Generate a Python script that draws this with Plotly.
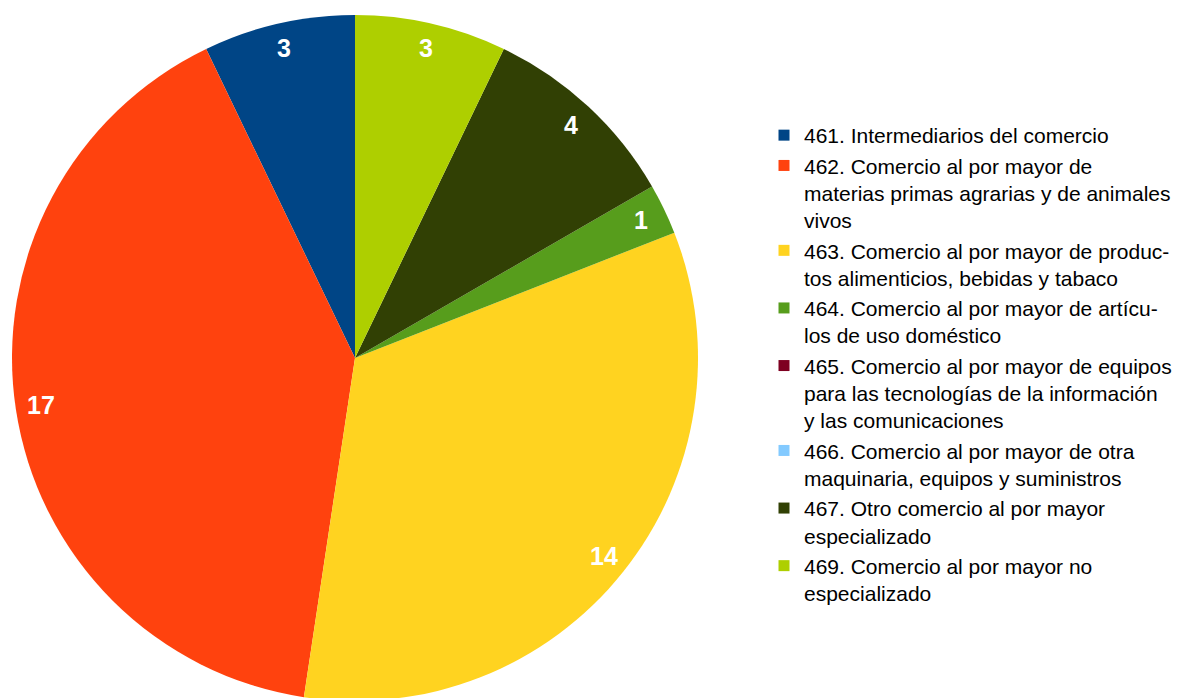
import math
import plotly.graph_objects as go

# ---- data ----
categories = [
    "461. Intermediarios del comercio",
    "462. Comercio al por mayor de<br>materias primas agrarias y de animales<br>vivos",
    "463. Comercio al por mayor de produc-<br>tos alimenticios, bebidas y tabaco",
    "464. Comercio al por mayor de artícu-<br>los de uso doméstico",
    "465. Comercio al por mayor de equipos<br>para las tecnologías de la información<br>y las comunicaciones",
    "466. Comercio al por mayor de otra<br>maquinaria, equipos y suministros",
    "467. Otro comercio al por mayor<br>especializado",
    "469. Comercio al por mayor no<br>especializado",
]
values = [3, 17, 14, 1, 0, 0, 4, 3]
colors = ["#004586", "#ff420e", "#ffd320", "#579d1c", "#7e0021", "#83caff", "#314004", "#aecf00"]

# ---- layout constants ----
W, H = 1187, 698
M_T, M_B, M_L, M_R = 7, 5, 0, 0
PIE_W = 694
plot_w = W - M_L - M_R
plot_h = H - M_T - M_B
dom_x = [0, PIE_W / plot_w]
R_px = min(PIE_W, plot_h) / 2
cx = (dom_x[0] + dom_x[1]) / 2
cy = 0.5
LABEL_FRAC = 0.927

total = sum(values)
# plotly's counterclockwise pies place the first slice clockwise of 12 o'clock;
# rotate so that the first slice starts at 12 o'clock and runs counterclockwise
rotation = -360.0 * values[0] / total

fig = go.Figure()
fig.add_trace(go.Pie(
    labels=categories,
    values=values,
    marker=dict(colors=colors, line=dict(width=0)),
    sort=False,
    direction="counterclockwise",
    rotation=rotation,
    textinfo="none",
    hoverinfo="label+value",
    domain=dict(x=dom_x, y=[0, 1]),
    showlegend=False,
))

# legend entries (one per category)
for cat, col in zip(categories, colors):
    fig.add_trace(go.Scatter(
        x=[None], y=[None], mode="markers", name=cat,
        marker=dict(symbol="square", size=11, color=col),
        legendgroup=cat, showlegend=True, hoverinfo="skip",
    ))

# value labels near the rim, positioned from cumulative values
cum = 0
annotations = []
for v in values:
    if v > 0:
        mid = (cum + v / 2) / total * 2 * math.pi
        dx = -math.sin(mid) * LABEL_FRAC * R_px
        dy = math.cos(mid) * LABEL_FRAC * R_px
        annotations.append(dict(
            x=cx + dx / plot_w, y=cy + dy / plot_h, xref="paper", yref="paper",
            xanchor="center", yanchor="middle",
            text=f"<b>{v}</b>", showarrow=False,
            font=dict(family="Liberation Sans, Arial, sans-serif", size=25, color="white"),
        ))
    cum += v

LEG_TOP = 107
fig.update_layout(
    width=W, height=H,
    margin=dict(l=M_L, r=M_R, t=M_T, b=M_B),
    paper_bgcolor="white", plot_bgcolor="white",
    xaxis=dict(visible=False), yaxis=dict(visible=False),
    annotations=annotations,
    font=dict(family="Liberation Sans, Arial, sans-serif", color="#000000"),
    legend=dict(
        x=(804 - 40 - 8) / W, y=(H - M_B - LEG_TOP) / plot_h, xanchor="left", yanchor="top",
        font=dict(size=21, color="#000000"),
        valign="top", tracegroupgap=0, bgcolor="rgba(0,0,0,0)",
    ),
)

fig.write_html("out.html")
